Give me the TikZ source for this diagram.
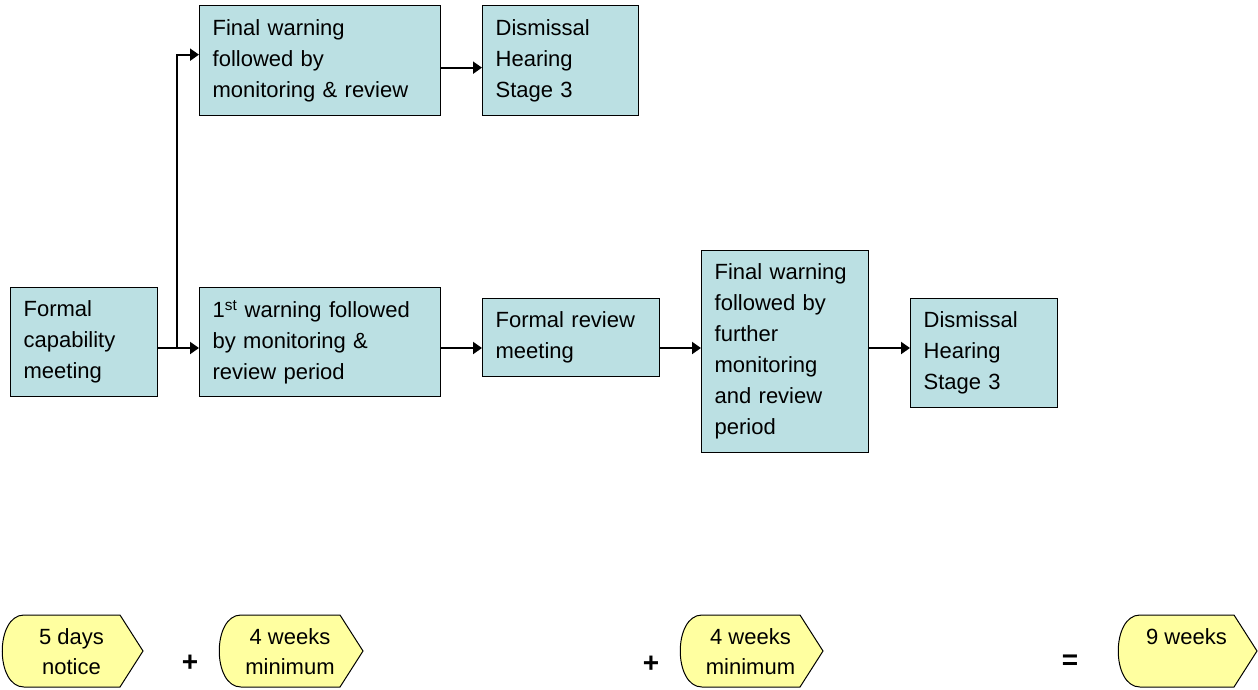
\documentclass[tikz,border=0pt]{standalone}
\usepackage{fontspec}
\setmainfont{Liberation Sans}
\usetikzlibrary{arrows.meta,positioning}
\definecolor{boxblue}{RGB}{187,224,227}
\definecolor{tagyellow}{RGB}{255,255,160}
\newcommand{\timetag}[5]{% name, L, R, text1, text2
  \draw[tagline] ({#2+22},615) -- ({#3-23},615) -- (#3,651) -- ({#3-23},687) -- ({#2+22},687)
    .. controls ({#2-7},687) and ({#2-7},615) .. ({#2+22},615) -- cycle;
  \node[tagtext] (#1) at ({(#2+#3)/2-1},652) {#4\\#5};
}
\begin{document}
\begin{tikzpicture}[x=1pt,y=-1pt,
  stepbox/.style={draw=black,line width=1.3pt,fill=boxblue,rectangle,align=left,
    inner xsep=13pt,inner ysep=0pt,font=\fontsize{22}{31}\selectfont,anchor=north west},
  conn/.style={line width=2pt,-{Triangle[length=9pt,width=12pt]}},
  tagline/.style={draw=black,line width=1pt,fill=tagyellow},
  tagtext/.style={align=center,font=\fontsize{22}{30}\selectfont,inner sep=0pt},
  opsign/.style={font=\fontsize{28}{30}\selectfont\bfseries,inner sep=0pt}]
\useasboundingbox (0,0) rectangle (1258,689);

\node[stepbox,text width=121pt,minimum height=109pt] (cap) at (10,287)
  {Formal\\capability\\meeting};
\node[stepbox,text width=215pt,minimum height=109pt] (warn1) at (199,287)
  {1\textsuperscript{st} warning followed\\by monitoring \&\\review period};
\node[stepbox,text width=215pt,minimum height=110pt] (final1) at (199,5)
  {Final warning\\followed by\\monitoring \& review};
\node[stepbox,text width=130pt,minimum height=110pt] (dis1) at (482,5)
  {Dismissal\\Hearing\\Stage 3};
\node[stepbox,text width=151pt,minimum height=78pt] (rev) at (482,298)
  {Formal review\\meeting};
\node[stepbox,text width=141pt,minimum height=202pt] (final2) at (701,250)
  {Final warning\\followed by\\further\\monitoring\\and review\\period};
\node[stepbox,text width=121pt,minimum height=109pt] (dis2) at (910,298)
  {Dismissal\\Hearing\\Stage 3};

\coordinate (branch) at (177,348);
\draw[conn] (cap.east |- branch) -- (warn1.west |- branch);
\draw[conn] (branch) |- ([yshift=6pt]final1.west);
\draw[conn] ([yshift=-7pt]final1.east) -- ([yshift=-7pt]final1.east -| dis1.west);
\draw[conn] (warn1.east |- branch) -- (rev.west |- branch);
\draw[conn] (rev.east |- branch) -- (final2.west |- branch);
\draw[conn] (final2.east |- branch) -- (dis2.west |- branch);

\timetag{t1}{2}{143}{5 days}{notice}
\node[opsign] (p1) at (190,663) {+};
\timetag{t2}{219}{363}{4 weeks}{minimum}
\node[opsign] (p2) at (651,664) {+};
\timetag{t3}{680}{823}{4 weeks}{minimum}
\node[opsign] (eq) at (1070,662) {=};
\timetag{t4}{1118}{1257}{9 weeks}{\mbox{}}
\end{tikzpicture}
\end{document}
